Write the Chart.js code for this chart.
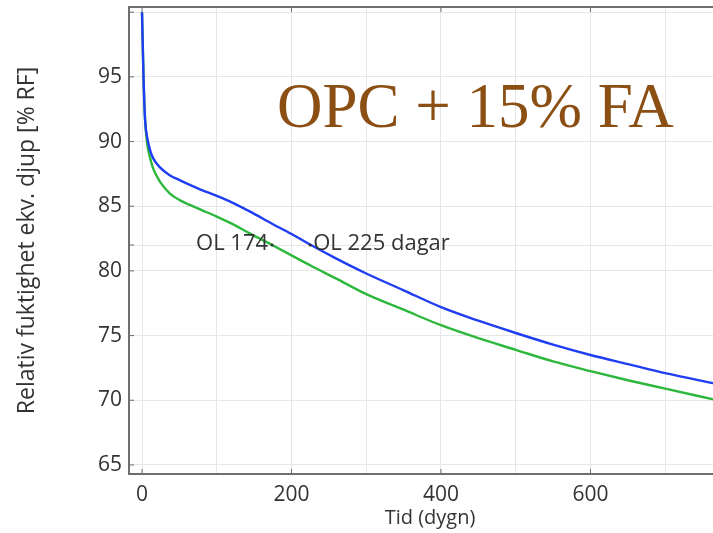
<!DOCTYPE html>
<html>
<head>
<meta charset="utf-8">
<script src="https://cdn.jsdelivr.net/npm/chart.js@4/dist/chart.umd.min.js"></script>
<style>
  html, body { margin: 0; padding: 0; background: #fff; }
  #wrap { width: 713px; height: 533px; overflow: hidden; }
</style>
</head>
<body>
<div id="wrap"><canvas id="chart" width="740" height="533"></canvas></div>
<script>
// Tid (dygn) and relativ fuktighet for both curves
const days = [0, 2, 4, 7, 11, 15, 24, 37, 51, 64, 80, 100, 120, 144, 174, 200, 226, 260, 300, 350, 400, 450, 500, 550, 600, 650, 700, 766]
const blueRH = [100, 95.0, 91.8, 90.3, 89.3, 88.7, 88.0, 87.4, 87.0, 86.65, 86.25, 85.8, 85.3, 84.6, 83.65, 82.85, 82.0, 80.95, 79.8, 78.5, 77.2, 76.15, 75.2, 74.3, 73.5, 72.8, 72.1, 71.3]
const greenRH = [100, 95.0, 91.8, 89.8, 88.7, 87.9, 86.9, 86.0, 85.45, 85.1, 84.7, 84.2, 83.65, 82.9, 82.0, 81.2, 80.4, 79.4, 78.2, 77.0, 75.8, 74.8, 73.9, 73.0, 72.25, 71.55, 70.9, 70.05]

// tick positions
const xTicks = [0, 100, 200, 300, 400, 500, 600, 700]
const xLabelled = [0, 200, 400, 600]
const yTicks = [65, 70, 75, 80, 82, 85, 90, 95, 100]
const yLabelled = [65, 70, 75, 80, 85, 90, 95]

// annotation points
const markDays = [174, 225]
const markRH = [82, 82]
const markLabels = ["OL 174", "OL 225 dagar"]

const titleText = "OPC + 15% FA"
const xTitle = "Tid (dygn)"
const yTitle = "Relativ fuktighet ekv. djup [% RF]"

Chart.defaults.font.family = "'Open Sans', 'DejaVu Sans', sans-serif"
Chart.defaults.color = "#333"

const toPoints = (ys) => days.map((d, i) => ({ x: d, y: ys[i] }))

const decorPlugin = {
  id: "decor",
  afterDraw(chart) {
    const ctx = chart.ctx
    const area = chart.chartArea
    const x = chart.scales.x
    const y = chart.scales.y
    ctx.save()

    // top frame line
    ctx.strokeStyle = "#6e6e6e"
    ctx.lineWidth = 2
    ctx.beginPath()
    ctx.moveTo(area.left, area.top)
    ctx.lineTo(area.right, area.top)
    ctx.stroke()

    // small inward tick marks
    ctx.lineWidth = 1
    yTicks.forEach((v) => {
      const py = y.getPixelForValue(v)
      ctx.beginPath()
      ctx.moveTo(area.left, py)
      ctx.lineTo(area.left + 5, py)
      ctx.stroke()
    })
    xLabelled.forEach((v) => {
      const px = x.getPixelForValue(v)
      ctx.beginPath()
      ctx.moveTo(px, area.bottom)
      ctx.lineTo(px, area.bottom - 5)
      ctx.moveTo(px, area.top)
      ctx.lineTo(px, area.top + 5)
      ctx.stroke()
    })

    // annotation points
    ctx.font = "22px 'Open Sans', sans-serif"
    ctx.fillStyle = "#333"
    ctx.textBaseline = "middle"
    markDays.forEach((d, i) => {
      const px = x.getPixelForValue(d)
      const py = y.getPixelForValue(markRH[i])
      ctx.beginPath()
      ctx.arc(px, py, 1.5, 0, Math.PI * 2)
      ctx.fill()
      if (i === 0) {
        ctx.textAlign = "right"
        ctx.fillText(markLabels[i], px - 4, py - 1)
      } else {
        ctx.textAlign = "left"
        ctx.fillText(markLabels[i], px + 3, py - 1)
      }
    })

    // big title
    ctx.font = "63px 'Liberation Serif', 'Times New Roman', serif"
    ctx.fillStyle = "#8b4f14"
    ctx.textAlign = "left"
    ctx.textBaseline = "alphabetic"
    ctx.fillText(titleText, 277, 127)
    ctx.restore()
  },
}

new Chart(document.getElementById("chart"), {
  type: "line",
  data: {
    datasets: [
      {
        data: toPoints(blueRH),
        borderColor: "#1f3df2",
        borderWidth: 2.4,
        pointRadius: 0,
        cubicInterpolationMode: "monotone",
      },
      {
        data: toPoints(greenRH),
        borderColor: "#2db83d",
        borderWidth: 2.4,
        pointRadius: 0,
        cubicInterpolationMode: "monotone",
      },
    ],
  },
  options: {
    responsive: false,
    animation: false,
    layout: { padding: { top: 7, right: 9, left: 0, bottom: 0 } },
    plugins: { legend: { display: false }, tooltip: { enabled: false } },
    scales: {
      x: {
        type: "linear",
        min: -17.4,
        max: 788,
        afterBuildTicks: (scale) => {
          scale.ticks = xTicks.map((v) => ({ value: v }))
        },
        afterFit: (scale) => {
          scale.height = 59
          scale.paddingLeft = 0
          scale.paddingRight = 0
        },
        border: { color: "#6e6e6e", width: 2 },
        grid: { color: "#e6e6e6", lineWidth: 1, drawTicks: false },
        ticks: {
          padding: 8,
          maxRotation: 0,
          autoSkip: false,
          font: { size: 21 },
          callback: (v) => (xLabelled.includes(v) ? v : ""),
        },
        title: {
          display: true,
          text: xTitle,
          font: { size: 20 },
          padding: { top: 0, bottom: 3 },
        },
      },
      y: {
        min: 64.3,
        max: 100.4,
        afterBuildTicks: (scale) => {
          scale.ticks = yTicks.slice().sort((a, b) => a - b).map((v) => ({ value: v }))
        },
        afterFit: (scale) => {
          scale.width = 129
          scale.paddingTop = 0
          scale.paddingBottom = 0
        },
        border: { color: "#6e6e6e", width: 2 },
        grid: { color: "#e6e6e6", lineWidth: 1, drawTicks: false },
        ticks: {
          padding: 7,
          autoSkip: false,
          font: { size: 21 },
          callback: (v) => (yLabelled.includes(v) ? v : ""),
        },
        title: {
          display: true,
          text: yTitle,
          font: { size: 23 },
          padding: { top: 14, bottom: 0 },
        },
      },
    },
  },
  plugins: [decorPlugin],
})
</script>
</body>
</html>
